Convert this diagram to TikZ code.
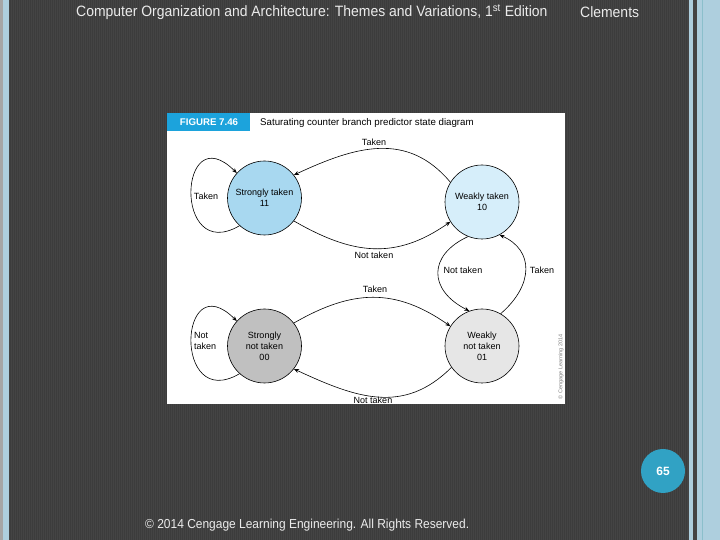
\documentclass[tikz,border=0pt]{standalone}
\usepackage{fontspec}
\setmainfont{Liberation Sans}
\usetikzlibrary{arrows.meta}
\definecolor{slidebg}{RGB}{68,68,68}
\definecolor{stripe}{RGB}{60,60,60}
\definecolor{edgeblue}{RGB}{174,207,222}
\definecolor{figblue}{RGB}{28,163,220}
\definecolor{stfill}{RGB}{168,216,240}
\definecolor{wtfill}{RGB}{214,238,250}
\definecolor{snfill}{RGB}{192,192,192}
\definecolor{wnfill}{RGB}{230,230,230}
\definecolor{pageblue}{RGB}{49,162,196}
\definecolor{headtext}{RGB}{235,235,235}
\tikzset{
  state/.style={circle,draw=black,line width=0.6pt,minimum size=74pt,inner sep=0pt,align=center,font=\fontsize{9}{11}\selectfont},
  trans/.style={line width=0.6pt,-{Stealth[length=5pt,width=4pt]}},
  lbl/.style={font=\fontsize{9}{10.5}\selectfont,inner sep=0pt,align=left},
  headstyle/.style={anchor=west,text=headtext,inner sep=0pt,xscale=0.93,font=\fontsize{15}{17}\selectfont},
}
\begin{document}
\begin{tikzpicture}[x=1pt,y=1pt]
\useasboundingbox (0,0) rectangle (720,540);
% background
\fill[slidebg] (0,0) rectangle (720,540);
\foreach \x in {10,12,...,687} \draw[stripe,line width=0.7pt] (\x,0) -- (\x,540);
\fill[gray!70] (0,0) rectangle (3,540);
\fill[edgeblue] (3,0) rectangle (9,540);
\fill[edgeblue] (689,0) rectangle (693,540);
\fill[edgeblue] (697,0) rectangle (720,540);
\draw[edgeblue!80!teal,line width=1pt] (702,0) -- (702,540);
% header and footer
\node[headstyle] (title) at (76,528) {Computer Organization and Architecture: Themes and Variations, 1\textsuperscript{st} Edition};
\node[headstyle] (author) at (580,528) {Clements};
\node[headstyle,xscale=0.99,font=\fontsize{13}{15}\selectfont] (copy) at (145,15) {© 2014 Cengage Learning Engineering. All Rights Reserved.};
\node[circle,fill=pageblue,minimum size=44pt,inner sep=0pt,text=white,font=\bfseries\fontsize{12}{14}\selectfont] (page) at (663,69) {65};
% figure panel
\fill[white] (167,136) rectangle (565,427);
\fill[figblue] (167,409) rectangle (250,427);
\node[text=white,font=\bfseries\fontsize{9.7}{11}\selectfont,inner sep=0pt] (fig) at (209,418) {FIGURE 7.46};
\node[anchor=west,font=\fontsize{9.7}{11}\selectfont,inner sep=0pt] (cap) at (260,417) {Saturating counter branch predictor state diagram};
\node[rotate=90,text=gray,font=\fontsize{5.5}{6}\selectfont,inner sep=0pt] (cr) at (561,173) {© Cengage Learning 2014};
% states
\node[state,fill=stfill] (s11) at (264.5,342) {Strongly taken\\11};
\node[state,fill=wtfill] (w10) at (482,338) {Weakly taken\\10};
\node[state,fill=snfill] (s00) at (264.5,194) {Strongly\\not taken\\00};
\node[state,fill=wnfill] (w01) at (482,194) {Weakly\\not taken\\01};
% transitions
\draw[trans] (w10.148) to[out=130,in=25,looseness=1.1] (s11.38);
\draw[trans] (s11.-38) to[out=-30,in=-145,looseness=1.1] (w10.-148);
\draw[trans] (s11.-132) .. controls ([shift={(-92,-67)}]s11.center) and ([shift={(-86,83)}]s11.center) .. (s11.138);
\draw[trans] (w10.-112) .. controls (428,285) and (428,250) .. (w01.110);
\draw[trans] (w01.60) .. controls (534,255) and (534,290) .. (w10.-62);
\draw[trans] (s00.38) to[out=30,in=145,looseness=1.1] (w01.148);
\draw[trans] (w01.-145) to[out=-135,in=-25,looseness=1.1] (s00.-38);
\draw[trans] (s00.-132) .. controls ([shift={(-92,-67)}]s00.center) and ([shift={(-86,83)}]s00.center) .. (s00.138);
% labels
\node[lbl] (l1) at (374,398) {Taken};
\node[lbl] (l2) at (374,285) {Not taken};
\node[lbl] (l3) at (206,344) {Taken};
\node[lbl] (l4) at (463,270) {Not taken};
\node[lbl] (l5) at (542,270) {Taken};
\node[lbl] (l6) at (375,251) {Taken};
\node[lbl] (l7) at (373,140) {Not taken};
\node[lbl,anchor=west] (l8) at (194,199) {Not\\taken};
\end{tikzpicture}
\end{document}
